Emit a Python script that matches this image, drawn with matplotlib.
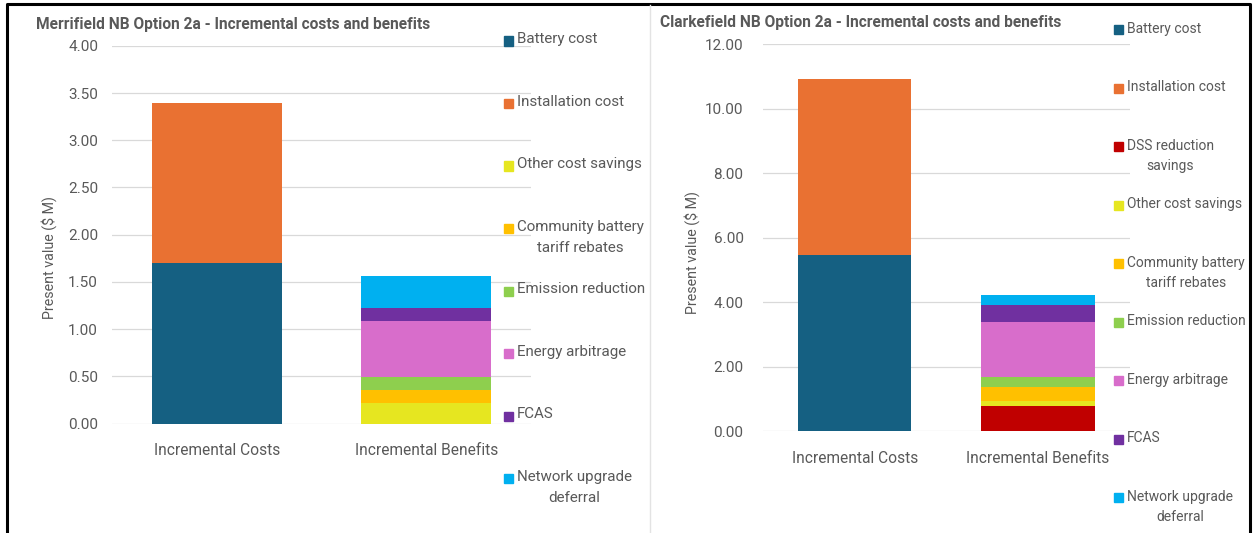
import numpy as np
import matplotlib.pyplot as plt
from matplotlib.patches import Rectangle
from matplotlib.lines import Line2D

plt.rcParams['font.family'] = ['Roboto', 'DejaVu Sans']

W, H = 1254, 533
GREY = '#595959'

categories = ['Incremental Costs', 'Incremental Benefits']

# Merrifield values ($M), [costs, benefits]
m_battery = [1.70, 0.0]
m_install = [1.70, 0.0]
m_other = [0.0, 0.22]
m_community = [0.0, 0.14]
m_emission = [0.0, 0.13]
m_energy = [0.0, 0.60]
m_fcas = [0.0, 0.13]
m_network = [0.0, 0.34]

# Clarkefield values ($M)
c_battery = [5.46, 0.0]
c_install = [5.45, 0.0]
c_dss = [0.0, 0.79]
c_other = [0.0, 0.16]
c_community = [0.0, 0.41]
c_emission = [0.0, 0.33]
c_energy = [0.0, 1.70]
c_fcas = [0.0, 0.53]
c_network = [0.0, 0.32]

colors = {
    'Battery cost': '#156082',
    'Installation cost': '#E97132',
    'DSS reduction\nsavings': '#C00000',
    'Other cost savings': '#E6E620',
    'Community battery\ntariff rebates': '#FFC000',
    'Emission reduction': '#8ECF4E',
    'Energy arbitrage': '#D86DCB',
    'FCAS': '#7030A0',
    'Network upgrade\ndeferral': '#00B0F0',
}

left_series = [('Battery cost', m_battery), ('Installation cost', m_install),
               ('Other cost savings', m_other),
               ('Community battery\ntariff rebates', m_community),
               ('Emission reduction', m_emission), ('Energy arbitrage', m_energy),
               ('FCAS', m_fcas), ('Network upgrade\ndeferral', m_network)]
right_series = [('Battery cost', c_battery), ('Installation cost', c_install),
                ('DSS reduction\nsavings', c_dss),
                ('Other cost savings', c_other),
                ('Community battery\ntariff rebates', c_community),
                ('Emission reduction', c_emission), ('Energy arbitrage', c_energy),
                ('FCAS', c_fcas), ('Network upgrade\ndeferral', c_network)]


def fx(x):
    return x / W


def fy(y):
    return 1 - y / H


fig = plt.figure(figsize=(W / 100, H / 100), dpi=100)


def draw_panel(rect, series, ymax, ystep, title, title_xy, ylab_xy,
               leg_x, leg_y0, leg_dy, ypad, xpad, lsp, leg_fs):
    ax = fig.add_axes(rect)
    x = np.arange(len(categories))
    bottom = np.zeros(len(categories))
    for name, vals in series:
        ax.bar(x, vals, width=0.62, bottom=bottom, color=colors[name], zorder=3)
        bottom += np.array(vals)
    ax.set_xlim(-0.5, 1.5)
    ax.set_ylim(0, ymax)
    ticks = np.arange(0, ymax + ystep / 2, ystep)
    ax.set_yticks(ticks)
    ax.set_yticklabels([f'{t:.2f}' for t in ticks])
    ax.set_xticks(x)
    ax.set_xticklabels(categories)
    ax.tick_params(axis='y', length=0, pad=ypad, labelsize=11, labelcolor=GREY)
    ax.tick_params(axis='x', length=0, pad=xpad, labelsize=11.2, labelcolor=GREY)
    ax.grid(axis='y', color='#d9d9d9', linewidth=0.9, zorder=0)
    for s in ax.spines.values():
        s.set_visible(False)
    fig.text(fx(title_xy[0]), fy(title_xy[1]), title, fontsize=11.2,
             fontweight='bold', color=GREY, ha='left', va='center')
    fig.text(fx(ylab_xy[0]), fy(ylab_xy[1]), 'Present value ($ M)', fontsize=10.3,
             color=GREY, rotation=90, ha='center', va='center')
    for i, (name, _) in enumerate(series):
        yc = leg_y0 + i * leg_dy
        fig.add_artist(Rectangle((fx(leg_x), fy(yc + 4.5)), fx(9), 9 / H,
                                 color=colors[name], transform=fig.transFigure))
        fig.text(fx(leg_x + 13), fy(yc - leg_fs * 0.78), name, fontsize=leg_fs,
                 color=GREY, ha='left', va='top', multialignment='center',
                 linespacing=lsp)
    return ax


draw_panel([fx(112), fy(423.5), fx(531 - 112), (423.5 - 45.9) / H],
           left_series, 4.0, 0.5,
           'Merrifield NB Option 2a - Incremental costs and benefits',
           (36, 25), (49, 258), 504, 41, 62.5, 10, 14, 1.6, 10.9)

draw_panel([fx(763), fy(431.3), fx(1129.6 - 763), (431.3 - 44.2) / H],
           right_series, 12.0, 2.0,
           'Clarkefield NB Option 2a - Incremental costs and benefits',
           (660, 23), (692, 253), 1114, 29.6, 58.5, 14, 14, 1.55, 10.0)

# frame and separator
fig.add_artist(Line2D([fx(7), fx(7), fx(1250), fx(1250)],
                      [0, fy(4), fy(4), 0], color='black', linewidth=2.2,
                      transform=fig.transFigure))
fig.add_artist(Line2D([fx(650), fx(650)], [0, fy(5)], color='#e3e3e3',
                      linewidth=1.0, transform=fig.transFigure))

fig.savefig('out.png', dpi=100)
